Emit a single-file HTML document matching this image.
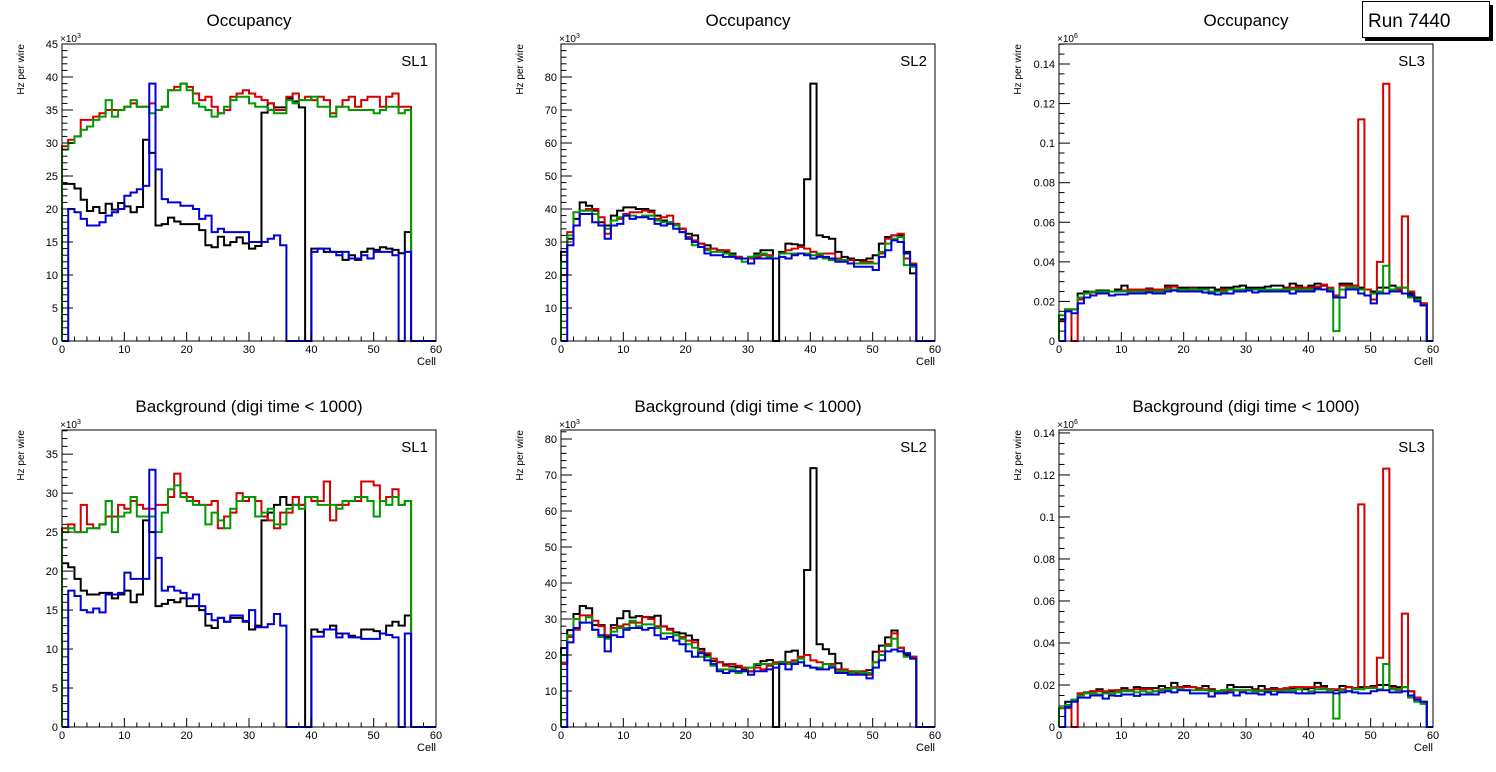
<!DOCTYPE html>
<html><head><meta charset="utf-8"><style>
html,body{margin:0;padding:0;background:#fff;}
svg{display:block;font-family:"Liberation Sans",sans-serif;}
</style></head><body>
<svg id="c" width="1496" height="772" viewBox="0 0 1496 772"></svg>
<script>
// ---- data ----
const cells = 60;
const p1Black=[23.8,23.8,23.1,21.4,19.7,20.3,19.4,20.8,19.9,20.9,20.4,19.5,20.3,30.5,28.5,17.5,17.7,18.7,18.1,17.7,17.7,17.7,16.8,14.5,14.2,15.8,14.5,15,15.7,14.8,14,14.4,34.6,36,35.4,35.4,36.8,36.3,35.4,0,14,14,13.5,13.5,13.5,12.3,13,12.3,13.5,14,13.8,14.2,14,13.8,13.3,16.5];
const p1Red=[29.5,30.5,31,33.5,33.5,34,34.5,35,35,35,35.5,36,35.5,35.5,36,35,35.5,38,38.5,39,38.5,37.5,36.5,37,35.5,34.5,35,37,37.5,38,37.5,37,36.5,36,35,35,37,37.5,36.5,37,36.5,37,36.5,34.5,35.5,36.5,37,35.5,36.5,37,37,35.5,37,37.5,35.5,35.5];
const p1Green=[29,30,31,32,32.5,33.5,34,36.5,34,35,35.5,36.5,35.5,35.5,34.5,35,35.5,38,38,39,38,36,35.5,35,34,34.5,35.5,36.5,37,37,36,35.5,35.5,35,34.5,34.5,36.5,36,36.5,36.5,37,35.5,35.5,34,35.5,35.5,35,35,35,35,34.5,35,35.5,35.5,34.5,35];
const p1Blue=[0,20,19.5,18.5,17.5,17.5,18,19,19.5,20,22,22.5,23,23.5,39,26,21.5,21,21,20.5,20.5,20,18.5,19,16.5,17,16.5,16.5,16.5,16.5,15,15,15,15.5,16,14.5,0,0,0,0,13.5,14,14,13.5,13,13.5,12.5,12.5,13,12.5,13.5,13.5,13.5,13,0,13.5];

const p2Black=[27,31,37,42,41,39.5,36,35,38,39.5,40.5,40.5,40,40,39.5,38,36.5,36,35,34,32.5,32,29.5,29,28,27.5,27,26.5,25.5,25,25.5,26.5,27.5,27.5,0,27,29.5,29.3,29,49,78,32,31.5,31,27,25.5,25,24.5,24.5,25,26,29.5,31.5,32,32,27,20.5];
const p2Red=[20,33,35,39.5,40,40,37.5,32.5,36.5,37,38.5,39,39,39.5,39,37,37.5,38,35.5,34,31.5,30.5,29.5,28,28,27.5,27.5,26,25.5,25,25,25.5,26,26,25,26.5,27.5,28,28.5,28,27,26,26.5,26.5,25,24.5,24.5,23.5,24,24,23.5,26.5,31,32,32.5,25,23.5];
const p2Green=[24,32,39,39.5,39.5,38.5,35,34,36.5,37.5,38,38,37.5,38,38,36.5,36,36,35,33,31,29,28.5,27.5,27,27,26.5,26,25,24,25.5,26,26.5,25.5,25,26.5,26.5,26.5,26.5,26.5,26,26.5,25,24.5,24.5,24.5,23.5,23.5,23.5,23.5,23.5,27,29.5,31,31.5,23,22.5];
const p2Blue=[0,29,35,38.5,38.5,36,35,31,35,35.5,38,37,37.5,37.5,37,35.5,35,35.5,34,33,31,30,28.5,26.5,26,26,25.5,25.5,25,25,23.5,25,25,25,25,25.5,25,26,26.5,26,25,25.5,25.5,25,24,24,23.5,22.5,22.5,22.5,21.5,25.5,27.5,30.5,30,26.5,23];

const p3Black=[0.011,0.016,0.016,0.024,0.025,0.025,0.0255,0.0255,0.025,0.026,0.028,0.026,0.026,0.026,0.0265,0.026,0.026,0.028,0.028,0.027,0.027,0.027,0.027,0.027,0.027,0.026,0.027,0.027,0.0275,0.028,0.027,0.027,0.027,0.0275,0.028,0.028,0.027,0.029,0.028,0.027,0.028,0.029,0.028,0.026,0.023,0.029,0.029,0.028,0.027,0.026,0.025,0.027,0.027,0.028,0.027,0.027,0.024,0.022,0.019];
const p3Red=[0.010,0.016,0,0.021,0.024,0.0245,0.025,0.025,0.025,0.025,0.0255,0.026,0.026,0.026,0.026,0.026,0.026,0.027,0.0275,0.026,0.026,0.0265,0.026,0.026,0.025,0.025,0.026,0.026,0.026,0.026,0.026,0.026,0.026,0.026,0.026,0.026,0.0265,0.027,0.027,0.027,0.027,0.0275,0.0285,0.027,0.023,0.028,0.028,0.028,0.112,0.026,0.021,0.040,0.130,0.026,0.026,0.063,0.025,0.021,0.019];
const p3Green=[0.013,0.016,0.016,0.022,0.024,0.025,0.025,0.025,0.025,0.025,0.025,0.025,0.025,0.025,0.025,0.025,0.025,0.026,0.026,0.026,0.026,0.026,0.026,0.026,0.025,0.025,0.025,0.026,0.026,0.026,0.026,0.026,0.026,0.026,0.026,0.026,0.026,0.026,0.026,0.026,0.026,0.026,0.026,0.026,0.005,0.026,0.027,0.027,0.026,0.023,0.024,0.025,0.038,0.026,0.027,0.027,0.022,0.021,0.018];
const p3Blue=[0,0.015,0.014,0.019,0.022,0.023,0.024,0.024,0.023,0.0235,0.0235,0.024,0.024,0.024,0.0245,0.024,0.024,0.025,0.0255,0.025,0.025,0.025,0.025,0.0245,0.024,0.0235,0.024,0.024,0.025,0.025,0.0255,0.0245,0.025,0.025,0.025,0.025,0.025,0.024,0.025,0.025,0.025,0.0265,0.026,0.025,0.022,0.022,0.026,0.026,0.024,0.023,0.019,0.024,0.024,0.025,0.025,0.024,0.023,0.020,0.018];

const p4Black=[21,20.5,19,17.5,17,17,17.2,17.2,16.5,17,17.5,16,17,26.5,25,15.5,15.8,16.3,16,16.5,15.5,15.5,15,13,12.7,14,13.5,14,14,13.5,12.5,13,26.5,27.5,28.5,29.5,28.5,28.5,28.5,0,12.5,12.2,12.5,13,12,12,11.7,11.5,12.5,12.5,12.3,12,13,13.5,13,14.3];
const p4Red=[25.5,26,25,28.5,26,25.5,26,27,27,28.5,28,29,28.5,28,28,28.5,28.5,29.5,32.5,30,29.5,29,28.5,28.5,29,25.5,27,27.5,30,29,29.5,29,27,26.5,25.5,27.5,27.5,29.5,28.5,29.5,29,29,31.5,26.5,28.5,28.5,29,29,31.5,31.5,31,29,29.5,30.5,28.5,29];
const p4Green=[25,25.5,25,25,25.5,25.5,26,29,25,27,27.5,29.5,27,27,27,25,27.5,30.5,31,29.5,29,28.5,28.5,26,27.5,26.5,25.5,28,29,29.5,29.5,27,27.5,28,26,26,28,28.5,28,29.5,29.5,28.5,28.5,28.5,28,29,29,29.5,29.5,29,27,29,28.5,29.5,28.5,29];
const p4Blue=[0,17.5,16.8,15,14.7,15.2,14.7,17,17,17.2,19.8,19,19,19,33,21.7,17.5,18,17.5,17.2,16.5,17,15.5,14.5,13.7,14,13.5,14.3,14.3,13.6,15,12.8,12.8,13.2,14.5,13,0,0,0,0,11.6,11.6,12.5,12.5,11.5,12,11.5,11.5,11.3,11.3,11.3,12,11.8,11.5,0,12];

const p5Black=[21.9,26.9,31.4,33.6,33,28.3,28.3,25,28.3,30.2,32.2,30.4,30.8,30.6,30.5,30.9,27.9,27.3,26.3,26,25.4,24.2,21.7,20,18.3,18,17.4,16.8,16.6,15.9,15.4,17.2,18.3,18.6,0,18.1,20.9,21.2,19.4,43.6,71.9,23,21.6,20.3,17.7,15.4,14.9,14.9,14.9,15.8,20.9,22.6,24.9,26.8,22,20,19.5];
const p5Red=[17.5,25,27,31,31,29.5,28,25.5,27.5,28,28.5,29,29,30.5,30,28,28,27,25.5,25,24,23.5,21,20.5,19,18,17,17.5,17,16.5,15.5,16.5,16,17,18,18,18,18.5,19.5,20,18.5,18,17.5,17.5,16,16,15.5,15,15.5,14.5,18,21,23,26,22,20.5,19.5];
const p5Green=[20,25.5,30,29,30.5,27,25,24.5,26.5,27.5,27.5,29.5,28,28.5,28.5,27.5,26,26,25.5,24.5,23,22,19.5,19.5,17,16,16,16,15,15.5,16.5,17.5,17.5,17.5,17.5,18,17.5,18,19,17,16.5,16.5,17.5,17,15.5,15.5,15,15.5,15,15,18,20,22.5,24.5,21,19.5,19];
const p5Blue=[0,23.5,27.5,29,29,27,25.5,21,25.5,25,27,27.5,27.5,27,27.5,25.5,24.5,25,24,23,21,19.5,20.5,18.5,17.5,15.5,15,15.5,15.5,15.5,14.5,15.5,15.5,16,16.5,17.5,16,17.5,18,17,16.5,16,16,16.5,15,15,14.5,14.5,14.5,13.5,16.5,18.5,21,21.5,21,20.5,19];

const p6Black=[0.009,0.012,0.013,0.016,0.0165,0.017,0.018,0.0165,0.017,0.0175,0.0185,0.0175,0.019,0.0185,0.0185,0.0185,0.0195,0.0185,0.021,0.019,0.0195,0.019,0.018,0.0195,0.018,0.017,0.0175,0.020,0.019,0.019,0.019,0.018,0.0195,0.018,0.0185,0.018,0.018,0.0185,0.019,0.018,0.0185,0.021,0.0195,0.018,0.0175,0.0195,0.019,0.0185,0.019,0.019,0.0195,0.02,0.02,0.0195,0.019,0.019,0.017,0.014,0.012];
const p6Red=[0.009,0.009,0,0.016,0.0165,0.017,0.017,0.017,0.0175,0.0175,0.0175,0.0175,0.018,0.018,0.018,0.017,0.018,0.018,0.019,0.019,0.019,0.019,0.0185,0.018,0.0175,0.016,0.0165,0.0175,0.0175,0.0175,0.0175,0.0175,0.0175,0.0175,0.018,0.018,0.0185,0.019,0.019,0.019,0.019,0.019,0.0185,0.018,0.018,0.018,0.019,0.0185,0.106,0.019,0.019,0.033,0.123,0.0185,0.018,0.054,0.017,0.014,0.012];
const p6Green=[0.009,0.0105,0.013,0.015,0.016,0.016,0.0155,0.016,0.016,0.0165,0.017,0.017,0.0165,0.017,0.0165,0.017,0.0175,0.018,0.0185,0.018,0.0175,0.0175,0.0175,0.0175,0.017,0.017,0.0175,0.018,0.0175,0.0175,0.0175,0.017,0.017,0.017,0.017,0.017,0.0175,0.0175,0.018,0.016,0.017,0.018,0.018,0.0175,0.004,0.0175,0.017,0.018,0.018,0.0185,0.0185,0.018,0.030,0.018,0.0175,0.019,0.014,0.012,0.011];
const p6Blue=[0,0.0095,0.012,0.014,0.014,0.015,0.015,0.0135,0.015,0.0148,0.0155,0.0155,0.0148,0.0155,0.0155,0.0155,0.0165,0.017,0.0165,0.0175,0.0175,0.016,0.016,0.016,0.0145,0.016,0.016,0.0165,0.015,0.0165,0.016,0.016,0.0155,0.0165,0.0155,0.0165,0.0165,0.0165,0.016,0.016,0.016,0.0165,0.0165,0.0165,0.016,0.0165,0.017,0.0165,0.016,0.016,0.017,0.0175,0.0175,0.0165,0.0165,0.017,0.015,0.013,0.012];

const xTicks=[0,10,20,30,40,50,60];
const yTicksK45=["0","5","10","15","20","25","30","35","40","45"];
const yTicksK80=["0","10","20","30","40","50","60","70","80"];
const yTicksM=["0","0.02","0.04","0.06","0.08","0.1","0.12","0.14"];
const yTicksK35=["0","5","10","15","20","25","30","35"];

// ---- layout ----
const panels=[
 {name:'occupancy-sl1',title:'Occupancy',sl:'SL1',L:62,T:44,R:436,B:341,ymax:45,major:5,minorN:5,labels:yTicksK45,exp:'3',series:[p1Black,p1Red,p1Green,p1Blue]},
 {name:'occupancy-sl2',title:'Occupancy',sl:'SL2',L:561,T:44,R:935,B:341,ymax:90,major:10,minorN:5,labels:yTicksK80,exp:'3',series:[p2Black,p2Red,p2Green,p2Blue]},
 {name:'occupancy-sl3',title:'Occupancy',sl:'SL3',L:1059,T:44,R:1433,B:341,ymax:0.1501,major:0.02,minorN:4,labels:yTicksM,exp:'6',series:[p3Black,p3Red,p3Green,p3Blue]},
 {name:'background-sl1',title:'Background (digi time < 1000)',sl:'SL1',L:62,T:430,R:436,B:727,ymax:38.1,major:5,minorN:5,labels:yTicksK35,exp:'3',series:[p4Black,p4Red,p4Green,p4Blue]},
 {name:'background-sl2',title:'Background (digi time < 1000)',sl:'SL2',L:561,T:430,R:935,B:727,ymax:82.5,major:10,minorN:5,labels:yTicksK80,exp:'3',series:[p5Black,p5Red,p5Green,p5Blue]},
 {name:'background-sl3',title:'Background (digi time < 1000)',sl:'SL3',L:1059,T:430,R:1433,B:727,ymax:0.1414,major:0.02,minorN:4,labels:yTicksM,exp:'6',series:[p6Black,p6Red,p6Green,p6Blue]}
];
const colors=['#000000','#d40000','#009a00','#0000d8'];
const seriesNames=['black','red','green','blue'];
const NS='http://www.w3.org/2000/svg';
const svg=document.getElementById('c');
function mk(tag,attrs,parent,text){const e=document.createElementNS(NS,tag);for(const k in attrs)e.setAttribute(k,attrs[k]);if(text!==undefined)e.textContent=text;(parent||svg).appendChild(e);return e;}

panels.forEach(p=>{
  const g=mk('g',{});
  
  
  const xs=v=>p.L+(p.R-p.L)*v/cells;
  const ys=v=>p.B-(p.B-p.T)*v/p.ymax;
  // series
  p.series.forEach((arr,si)=>{
    let d='M'+xs(0)+','+ys(0);
    for(let i=0;i<cells;i++){const v=i<arr.length?arr[i]:0;d+=' V'+ys(v).toFixed(2)+' H'+xs(i+1).toFixed(2);}
    d+=' V'+ys(0);
    const path=mk('path',{d:d,fill:'none',stroke:colors[si],'stroke-width':2},g);
    
    
  });
  // frame
  const fr=mk('rect',{x:p.L,y:p.T,width:p.R-p.L,height:p.B-p.T,fill:'none',stroke:'#000','stroke-width':1},g);
  
  
  // x ticks
  for(let v=0;v<=60;v+=2){const x=xs(v);const maj=v%10===0;mk('line',{x1:x,x2:x,y1:p.B,y2:p.B-(maj?9:4.5),stroke:'#000','stroke-width':1},g);}
  xTicks.forEach(v=>{const t=mk('text',{x:xs(v),y:p.B+12,'font-size':11,'text-anchor':'middle'},g,String(v));
    
    });
  const xt=mk('text',{x:p.R,y:p.B+24,'font-size':11,'text-anchor':'end'},g,'Cell');
  
  
  // y ticks
  const step=p.major/p.minorN;
  for(let k=0;k*step<=p.ymax+1e-9;k++){const v=k*step;const y=ys(v);const maj=k%p.minorN===0;mk('line',{x1:p.L,x2:p.L+(maj?11:5.5),y1:y,y2:y,stroke:'#000','stroke-width':1},g);}
  p.labels.forEach((lab,i)=>{const t=mk('text',{x:p.L-4,y:ys(i*p.major)+4,'font-size':11,'text-anchor':'end'},g,lab);
    
    });
  const ex=mk('text',{x:p.L-2,y:p.T-2,'font-size':10},g);
  
  
  mk('tspan',{},ex,'\u00d710');mk('tspan',{dy:-4,'font-size':7},ex,p.exp);
  const yt=mk('text',{x:0,y:0,'font-size':10,'text-anchor':'end',transform:'translate('+(p.L-38)+','+p.T+') rotate(-90)'},g,'Hz per wire');
  
  
  const ti=mk('text',{x:(p.L+p.R)/2,y:p.T-18,'font-size':17,'text-anchor':'middle'},g,p.title);
  
  
  const sl=mk('text',{x:p.R-8,y:p.T+22,'font-size':15,'text-anchor':'end'},g,p.sl);
  
  
});
// run box
const rb=mk('g',{});


mk('rect',{x:1365,y:5,width:128,height:36,fill:'#000'},rb);
mk('rect',{x:1362.5,y:1.5,width:127,height:36,fill:'#fff',stroke:'#000','stroke-width':1},rb);
const rt=mk('text',{x:1368,y:27,'font-size':19},rb,'Run 7440');


</script>
</body></html>
